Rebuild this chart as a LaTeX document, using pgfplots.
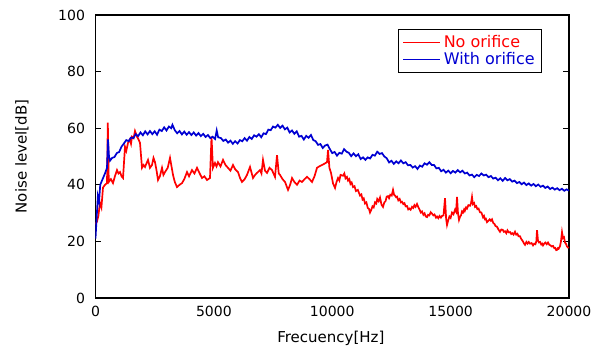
\documentclass[border=0pt]{standalone}
\usepackage{fontspec}
\setmainfont{DejaVu Sans}
\usepackage{pgfplots}
\pgfplotsset{compat=1.18}
\definecolor{myred}{RGB}{255,0,0}
\definecolor{myblue}{RGB}{0,0,210}
\begin{document}
\begin{tikzpicture}
\useasboundingbox (-95.5pt,-51pt) rectangle (505.5pt,298pt);
\begin{axis}[
  at={(0,0)}, anchor=south west,
  scale only axis, width=473.5pt, height=283pt,
  xmin=0, xmax=20000, ymin=0, ymax=100,
  xtick={0,5000,10000,15000,20000},
  ytick={0,20,40,60,80,100},
  xtick style={draw=none},
  ytick pos=both, yticklabel pos=left,
  tick align=inside,
  major tick length=6pt,
  ytick style={line width=1pt, black},
  axis line style={line width=1.6pt, black},
  /pgf/number format/assume math mode=true,
  /pgf/number format/1000 sep={},
  scaled x ticks=false,
  tick label style={font=\fontsize{14}{14}\selectfont},
  xticklabel style={yshift=-5pt},
  yticklabel style={xshift=-7pt},
  xlabel={Frecuency[Hz]},
  ylabel={Noise level[dB]},
  label style={font=\fontsize{15}{15}\selectfont},
  xlabel style={at={(axis description cs:0.497,-0.1413)}, anchor=center},
  ylabel style={at={(axis description cs:-0.1552,0.5)}, anchor=center},
  legend style={at={(0.943,0.9505)}, anchor=north east, draw=black, line width=0.6pt,
    font=\fontsize{16}{17.5}\selectfont, inner xsep=4pt, inner ysep=4.5pt, row sep=-1pt,
    nodes={inner xsep=3pt},
    legend cell align=left},
  legend image code/.code={\draw[#1, line width=1.1pt] (0pt,0pt) -- (37pt,0pt);},
]
\addplot[myred, line width=1.7pt] coordinates {
(0,26) (63,27) (120,29) (190,33.6) (250,32) (317,39) (400,40) (486,40.6) (520,62) (560,41)
(650,42) (739,40.6) (820,43) (908,45.2) (970,44) (1035,44.5) (1100,43) (1162,42.4) (1246,53.4) (1300,52)
(1373,54.8) (1450,56) (1500,54.5) (1542,57) (1610,56.5) (1668,59) (1753,57) (1820,56) (1880,54.8) (1964,46) (2030,47) (2091,46.3)
(2150,47.5) (2218,48.8) (2300,46) (2387,47) (2450,49.5) (2513,48) (2580,45) (2640,41.7) (2720,43) (2809,46) (2870,43.5) (2936,44.5)
(3050,46) (3147,49.5) (3200,47) (3274,43.5) (3350,41) (3442,39.2) (3550,40) (3654,40.6) (3750,42) (3865,44.5)
(3950,43) (4076,45.2) (4180,44) (4287,46) (4400,44) (4498,42.4) (4600,43) (4709,41.7)
(4836,42.4) (4900,57) (4960,46) (5047,47.7) (5110,46.5) (5174,48) (5280,46.5) (5386,48.8) (5490,47)
(5597,46) (5700,45) (5808,47) (5900,45.5) (6019,44.5) (6100,42.5) (6188,41) (6300,42) (6399,43.5)
(6526,46.3) (6653,42.4) (6740,43.5) (6822,44.2) (6948,45.2) (7010,44) (7075,48.8) (7160,45) (7244,44.2) (7350,46)
(7455,45.2) (7582,42.8) (7667,50.5) (7740,44) (7793,43.5) (7900,42) (8005,41) (8132,38.2) (8220,40)
(8301,42.4) (8400,41) (8512,40) (8620,41.5) (8723,41) (8830,42) (8934,42.8) (9040,42)
(9145,41) (9250,43) (9356,46) (9450,46.5) (9568,47) (9680,47.5) (9779,48)
(9821,52.3) (9880,46) (9948,44.2) (10032,40.5) (10117,38.9) (10180,41) (10244,42.4) (10300,41.5) (10350,43.5) (10455,43.2) (10510,44) (10560,42.3) (10620,42.8) (10666,41.5) (10720,42) (10770,40.3) (10820,40.8) (10877,39.2) (10940,39.5) (11000,37.8) (11080,38.2) (11173,36.2) (11230,36.6) (11280,34.8) (11330,35.2) (11384,33.4) (11440,33.8) (11500,31.8) (11550,31.5) (11595,30.2) (11650,31.2) (11700,32.4) (11750,32) (11806,33.8) (11860,33.4) (11900,35) (11960,34.2) (12018,35.5) (12080,33) (12144,32.2) (12200,33.8) (12250,34.2) (12300,35.8) (12356,36) (12400,35.3) (12450,36.5) (12510,36.2) (12567,38.2) (12610,36.5) (12650,36.2) (12700,35.6) (12736,35.8) (12790,34.5) (12847,35) (12900,33.8) (12947,34) (13000,33.2) (13050,33.5) (13100,32.4) (13158,32.5) (13210,31.3) (13260,31.6) (13310,31.2) (13369,32.2) (13420,31.8) (13470,32.8) (13520,32.2) (13581,33.2) (13640,32) (13690,31.2) (13740,30.2) (13792,30.6) (13850,29.4) (13900,29.9) (13950,28.8) (14003,28.6) (14050,29.4) (14100,29.2) (14160,30.3) (14214,29.8) (14270,29.2) (14320,29.5) (14380,28.4) (14425,28.8) (14480,28.2) (14530,29) (14590,28.4) (14636,29) (14700,29.2) (14763,35.3) (14810,28) (14847,25.8) (14900,27.5) (14950,28.8) (15000,28.3) (15058,30.2) (15120,29.6) (15185,31.2) (15230,30.5) (15270,35.7) (15310,30) (15354,27.6) (15400,28.8) (15440,29.2) (15480,30.6) (15523,30.2) (15570,31.3) (15600,30.8) (15650,32) (15692,31.6) (15750,32.8) (15819,32.6) (15860,33.4) (15903,35.7) (15940,33.2) (15990,33.6) (16030,32.2) (16080,32.5) (16130,31.4) (16180,31.6) (16241,30.3) (16300,30.2) (16368,28.5) (16410,29) (16450,27.8) (16490,28) (16537,26.8) (16590,27.2) (16650,27.8) (16700,27.3) (16748,27.8) (16800,26.5) (16850,26.2) (16900,25.4) (16959,25.2) (17020,24.2) (17086,23.4) (17140,24.2) (17200,24.1) (17250,23.4) (17297,23.6) (17350,22.9) (17400,23.9) (17450,23.2) (17508,23.3) (17560,22.6) (17610,22.9) (17660,22.4) (17720,23.4) (17770,22.4) (17820,22.7) (17870,21.8) (17931,21.8) (17980,20.9) (18040,20.2) (18090,19.4) (18142,18.8) (18200,19.8) (18250,19.2) (18300,19.8) (18353,19.2) (18420,19.4) (18480,18.6) (18530,19.2) (18580,19) (18620,20) (18649,24) (18690,20.3) (18733,19.6) (18780,19.8) (18830,18.9) (18870,19.2) (18902,18.6) (18950,19.2) (19000,19.6) (19060,19) (19114,19.6) (19170,18.8) (19220,18.6) (19270,18.2) (19325,18.4) (19380,17.6) (19420,17.7) (19460,16.9) (19494,17) (19530,17.6) (19560,17.4) (19620,18.3) (19660,20) (19705,23.3) (19747,21.2) (19790,21.5) (19830,19.6) (19870,19.2) (19916,18.2) (19960,17.8) (20000,17.8)
};
\addlegendentry{\textcolor{myred}{No orifice}}
\addplot[myblue, line width=1.7pt] coordinates {
(0,21) (60,30) (100,36) (150,34) (200,40) (300,42) (400,44) (486,46) (528,56) (570,50)
(612,48.5) (700,49.5) (800,49.8) (900,51.2) (1000,51.6) (1100,53.5) (1200,54.6) (1300,55.8)
(1400,55.4) (1500,56.7) (1600,56.5) (1700,57.9) (1800,57.2) (1900,58.5) (2000,57.5) (2100,58.9)
(2200,57.8) (2300,59) (2400,57.9) (2500,58.9) (2600,57.7) (2700,59.5) (2800,59) (2900,60.3)
(3000,59.2) (3100,60.6) (3200,60) (3250,61.2) (3350,59.3) (3450,58.2) (3550,59) (3650,57.8)
(3750,58.8) (3850,57.7) (3950,58.6) (4050,57.6) (4150,58.5) (4250,57.4) (4350,58.3) (4450,57.2)
(4550,58) (4650,56.9) (4750,57.6) (4850,56.5) (4950,57) (5050,56.2) (5120,59.2) (5180,56.8)
(5300,56.5) (5400,55.5) (5500,56) (5600,54.9) (5700,55.6) (5800,54.5) (5900,55.4) (6000,54.6)
(6100,55.8) (6200,55.4) (6300,56.5) (6400,55.6) (6500,56.9) (6600,56.2) (6700,57.5) (6800,57)
(6900,57.9) (7000,56.8) (7100,58.2) (7200,57.9) (7300,59.5) (7400,59.3) (7500,60.6) (7600,60.2)
(7700,61.2) (7800,60.1) (7900,60.9) (8000,59.6) (8100,60.2) (8200,58.5) (8300,59.2) (8400,58)
(8500,58.9) (8600,57) (8700,57.3) (8800,56) (8900,57.3) (9000,56.6) (9100,57.6) (9200,55.8)
(9300,55.4) (9400,54.1) (9500,54.4) (9600,53) (9700,53.9) (9800,54.2) (9900,52.6) (10000,51.2)
(10100,51.6) (10200,50.3) (10300,51.3) (10400,51) (10500,52.6) (10600,51.7) (10700,51.3)
(10800,50.1) (10900,51.1) (11000,50.1) (11100,50.8) (11200,49.1) (11300,49.7) (11400,48.8)
(11500,49.7) (11600,49.3) (11700,50.6) (11800,50.3) (11900,51.7) (12000,50.9) (12100,51.2)
(12200,50) (12300,49.4) (12400,47.9) (12500,48.5) (12600,47.4) (12700,48.3) (12800,47.6)
(12900,48.6) (13000,47.6) (13100,48) (13200,46.9) (13300,47) (13400,46.1) (13500,46.6)
(13600,45.6) (13700,46.8) (13800,46.4) (13900,47.6) (14000,47.1) (14100,48) (14200,47)
(14300,47) (14400,45.8) (14500,46) (14600,44.8) (14700,45.3) (14800,44.3) (14900,45)
(15000,44.1) (15100,44.9) (15200,44.3) (15300,45.2) (15400,44.4) (15500,45) (15600,44)
(15700,44.3) (15800,43.3) (15900,43.6) (16000,42.7) (16100,43.5) (16200,43.1) (16300,44)
(16400,43.3) (16500,43.6) (16600,42.7) (16700,43.1) (16800,42.2) (16900,42.5) (17000,41.6)
(17100,42.3) (17200,41.4) (17300,42.4) (17400,41.6) (17500,42) (17600,41.1) (17700,41.5)
(17800,40.6) (17900,41) (18000,40.2) (18100,40.8) (18200,39.9) (18300,40.5) (18400,39.7)
(18500,40.3) (18600,39.5) (18700,40.1) (18800,39.3) (18900,39.7) (19000,38.9) (19100,39.4)
(19200,38.5) (19300,39) (19400,38.3) (19500,38.8) (19600,38.1) (19700,38.6) (19800,37.9)
(19900,38.4) (20000,37.9)
};
\addlegendentry{\textcolor{myblue}{With orifice}}
\end{axis}
\end{tikzpicture}
\end{document}
